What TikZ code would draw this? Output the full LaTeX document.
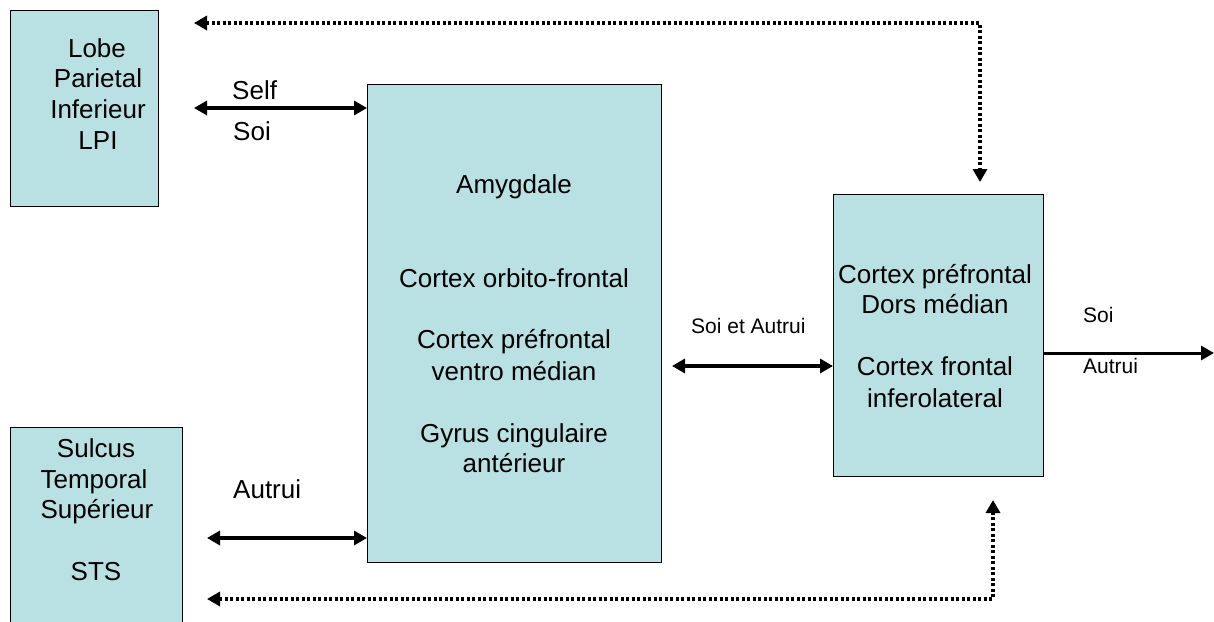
\documentclass[tikz,border=0pt]{standalone}
\usepackage{fontspec}
\setmainfont{Liberation Sans}
\usetikzlibrary{arrows.meta}
\definecolor{boxfill}{HTML}{B9E0E2}
\tikzset{
  region/.style={draw=black, line width=1.4pt, fill=boxfill, inner sep=0pt, anchor=north west},
  big/.style={font=\fontsize{26}{31}\selectfont, inner sep=0pt, anchor=base},
  small/.style={font=\fontsize{21}{25}\selectfont, inner sep=0pt, anchor=base west},
  dbl/.style={line width=3.5pt, {Triangle[length=13pt,width=14pt]}-{Triangle[length=13pt,width=14pt]}},
  single/.style={line width=3pt, -{Triangle[length=13pt,width=14pt]}},
  dots/.style={line width=3.5pt, dash pattern=on 3pt off 2.5pt, {Triangle[length=13pt,width=14pt]}-{Triangle[length=13pt,width=14pt]}}
}
\begin{document}
\begin{tikzpicture}[x=1pt,y=-1pt]
\useasboundingbox (0,0) rectangle (1214,621);
\fill[white] (0,0) rectangle (1214,621);
% boxes
\node[region, minimum width=148pt, minimum height=196pt] (lpi) at (10,10) {};
\node[region, minimum width=172pt, minimum height=210pt] (sts) at (10,427) {};
\node[region, minimum width=294pt, minimum height=478pt] (amy) at (367,84) {};
\node[region, minimum width=210pt, minimum height=282pt] (pfc) at (833,194) {};
% LPI text
\node[big] (t1) at (97,57) {Lobe};
\node[big] (t2) at (98,87) {Parietal};
\node[big] (t3) at (98,118) {Inferieur};
\node[big] (t4) at (98,149) {LPI};
% STS text
\node[big] (t5) at (96,457) {Sulcus};
\node[big] (t6) at (94,488) {Temporal};
\node[big] (t7) at (97,518) {Supérieur};
\node[big] (t8) at (96,580) {STS};
% Amygdale box text
\node[big] (a1) at (514,193) {Amygdale};
\node[big] (a2) at (514,287) {Cortex orbito-frontal};
\node[big] (a3) at (514,348) {Cortex préfrontal};
\node[big] (a4) at (514,380) {ventro médian};
\node[big] (a5) at (514,442) {Gyrus cingulaire};
\node[big] (a6) at (514,472) {antérieur};
% PFC box text
\node[big] (p1) at (935,283) {Cortex préfrontal};
\node[big] (p2) at (935,313) {Dors médian};
\node[big] (p3) at (935,375) {Cortex frontal};
\node[big] (p4) at (935,407) {inferolateral};
% labels
\node[big, anchor=base west] (l1) at (232,99) {Self};
\node[big, anchor=base west] (l2) at (233,140) {Soi};
\node[big, anchor=base west] (l3) at (233,498) {Autrui};
\node[small] (l4) at (691,333) {Soi et Autrui};
\node[small] (l5) at (1083,322) {Soi};
\node[small] (l6) at (1083,373) {Autrui};
% coordinates
\coordinate (selfL) at (194,108);
\coordinate (autL) at (207,538);
\coordinate (midL) at (672,366);
\coordinate (outR) at (1214,353);
\coordinate (topL) at (194,23);
\coordinate (topC) at (980,23);
\coordinate (topE) at (980,182);
\coordinate (botL) at (207,599);
\coordinate (botC) at (993,599);
\coordinate (botE) at (993,500);
% connectors
\draw[dbl] (selfL) -- (amy.west |- selfL);
\draw[dbl] (autL) -- (amy.west |- autL);
\draw[dbl] (midL) -- (pfc.west |- midL);
\draw[single] (pfc.east |- outR) -- (outR);
\draw[dots] (topL) -- (topC) -- (topE);
\draw[dots] (botL) -- (botC) -- (botE);
\end{tikzpicture}
\end{document}
